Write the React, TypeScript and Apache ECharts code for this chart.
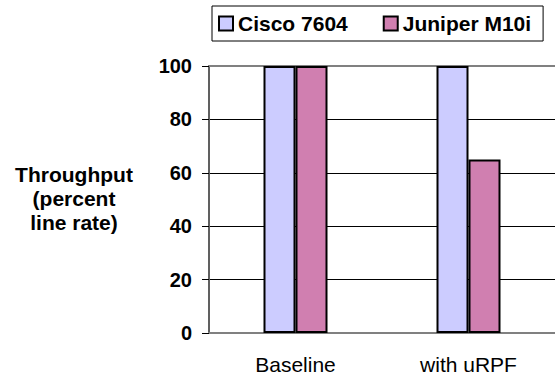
import React, { useEffect, useRef } from "react";
import * as echarts from "echarts";

const categories = ["Baseline", "with uRPF"];
const seriesNames = ["Cisco 7604", "Juniper M10i"];
const ciscoValues = [100, 100];
const juniperValues = [100, 65];
const yMin = 0;
const yMax = 100;
const yInterval = 20;
const yTitle = "Throughput\n(percent\nline rate)";

const FONT = 'Arial, "Liberation Sans", sans-serif';

export default function App() {
  const ref = useRef<HTMLDivElement>(null);
  useEffect(() => {
    document.body.style.margin = "0";
    const chart = echarts.init(ref.current!, null, { renderer: "svg" });
    chart.setOption({
      animation: false,
      backgroundColor: "#ffffff",
      textStyle: { fontFamily: FONT },
      legend: {
        data: seriesNames,
        left: 212,
        top: 6,
        itemWidth: 14,
        itemHeight: 14,
        itemGap: 35,
        padding: [7, 12, 7, 6],
        borderColor: "#000",
        borderWidth: 1,
        icon: "rect",
        textStyle: { fontSize: 21, fontWeight: "bold", color: "#000", fontFamily: FONT },
      },
      grid: { left: 209, top: 66, width: 354, height: 268, containLabel: false },
      xAxis: [
        {
          type: "category",
          data: categories,
          axisLine: { lineStyle: { color: "#808080", width: 2 } },
          axisTick: { show: false },
          axisLabel: { fontSize: 21, color: "#000", margin: 21, fontFamily: FONT },
        },
        {
          type: "category",
          data: categories,
          position: "top",
          axisLine: { lineStyle: { color: "#808080", width: 2 } },
          axisTick: { show: false },
          axisLabel: { show: false },
        },
      ],
      yAxis: {
        type: "value",
        min: yMin,
        max: yMax,
        interval: yInterval,
        axisLine: { show: true, lineStyle: { color: "#606060", width: 2 } },
        axisTick: { show: true, length: 7, lineStyle: { color: "#000", width: 1 } },
        axisLabel: { fontSize: 20, fontWeight: "bold", color: "#000", margin: 17, fontFamily: FONT },
        splitLine: { show: true, lineStyle: { color: "#000", width: 1 } },
      },
      graphic: [
        {
          type: "text",
          x: 74,
          y: 162,
          style: {
            text: yTitle,
            fontSize: 21,
            fontWeight: "bold",
            fontFamily: FONT,
            fill: "#000",
            align: "center",
            verticalAlign: "top",
            lineHeight: 24,
          },
        },
      ],
      series: [
        {
          name: seriesNames[0],
          type: "bar",
          data: ciscoValues,
          barWidth: 32,
          barGap: "0%",
          itemStyle: { color: "#CCCCFF", borderColor: "#000", borderWidth: 2 },
        },
        {
          name: seriesNames[1],
          type: "bar",
          data: juniperValues,
          barWidth: 32,
          barGap: "0%",
          itemStyle: { color: "#D07FB0", borderColor: "#000", borderWidth: 2 },
        },
      ],
    });
    return () => chart.dispose();
  }, []);
  return <div ref={ref} style={{ position: "fixed", left: 0, top: 0, width: 555, height: 375 }} />;
}
